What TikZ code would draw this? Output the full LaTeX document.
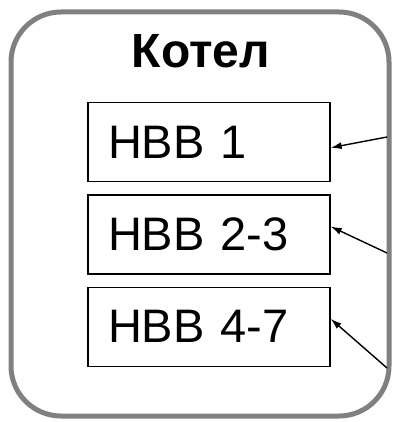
\documentclass[tikz,border=0pt]{standalone}
\usepackage{fontspec}
\setmainfont{Liberation Sans}
\usetikzlibrary{matrix,arrows.meta}
\definecolor{framegray}{RGB}{128,128,128}
\tikzset{
  unitbox/.style={draw, line width=1.3pt, minimum width=242pt, minimum height=79pt,
    text width=202pt, align=left, inner xsep=20pt, font=\fontsize{47}{50}\selectfont},
  feed/.style={-{Latex[length=11pt,width=7pt]}, line width=1.4pt}
}

\begin{document}
\begin{tikzpicture}[x=1pt,y=-1pt]
  \useasboundingbox (0,0) rectangle (393,422);
  \node (boiler) [draw=framegray, line width=5pt, rounded corners=50pt, minimum width=378pt, minimum height=404pt] at (200,214) {};
  \node (title) [anchor=base, font=\bfseries\fontsize{48}{50}\selectfont] at (201,68) {Котел};
  \matrix (m) [matrix of nodes, row sep=12pt, nodes={unitbox}] at (209,234.5)
  {
HBB 1 \\
HBB 2-3 \\
HBB 4-7 \\
};
  \coordinate (in1) at (387,137);
  \coordinate (in2) at (387,253);
  \coordinate (in3) at (387,368);
  \path[feed]
  (in1) edge ([yshift=-5.5pt]m-1-1.east)
  (in2) edge ([yshift=8pt]m-2-1.east)
  (in3) edge ([yshift=8pt]m-3-1.east)
  ;
\end{tikzpicture}
\end{document}
